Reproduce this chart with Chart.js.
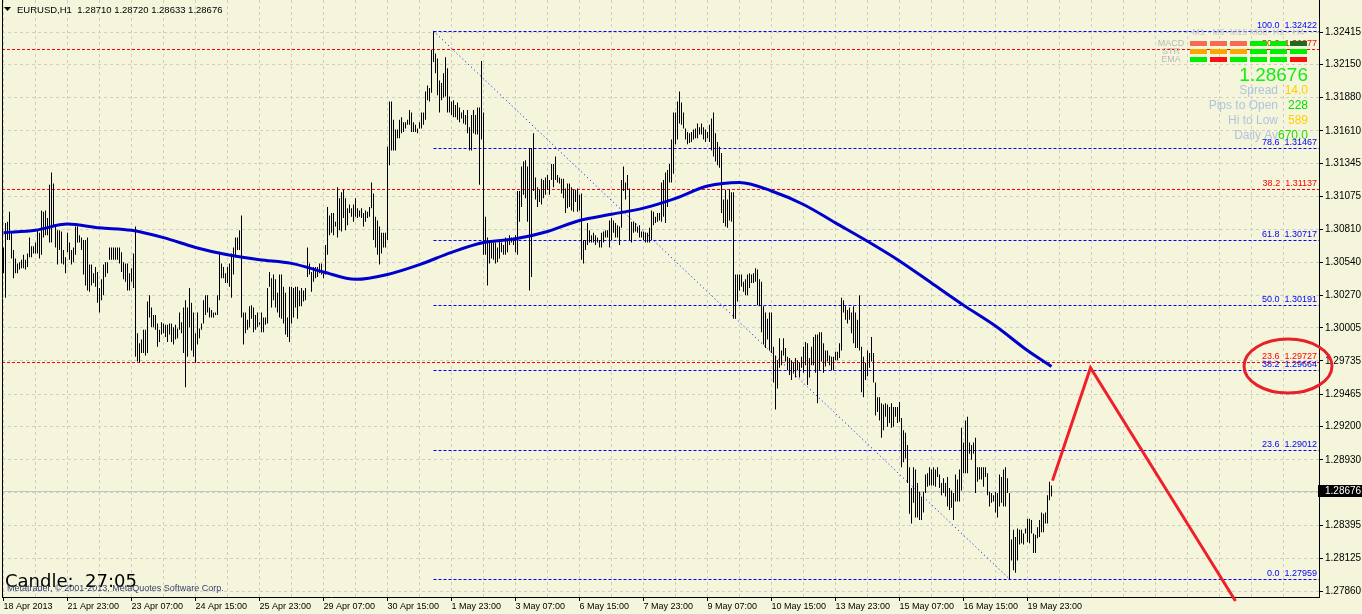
<!DOCTYPE html>
<html>
<head>
<meta charset="utf-8">
<title>EURUSD,H1</title>
<script src="https://cdn.jsdelivr.net/npm/chart.js@4.4.1/dist/chart.umd.min.js"></script>
<style>
  html, body { margin: 0; padding: 0; background: #f5f5dc; overflow: hidden; }
  canvas { display: block; }
</style>
</head>
<body>
<canvas id="eurusd-chart" width="1362" height="614"></canvas>
<script>
// EURUSD H1, 18 Apr - 20 May 2013, one bar per hour (bar view shows high/low only)
const highs = [
  1.3066,1.3086,1.3087,1.3095,1.3079,1.3064,1.3057,1.3053,1.3054,1.3056,
  1.3060,1.3056,1.3061,1.3074,1.3067,1.3067,1.3070,1.3080,1.3078,1.3096,
  1.3095,1.3096,1.3090,1.3117,1.3127,1.3118,1.3083,1.3080,1.3080,1.3079,
  1.3064,1.3058,1.3078,1.3070,1.3064,1.3066,1.3083,1.3083,1.3076,1.3074,
  1.3072,1.3072,1.3074,1.3052,1.3052,1.3045,1.3050,1.3046,1.3033,1.3040,
  1.3052,1.3054,1.3054,1.3066,1.3066,1.3066,1.3066,1.3066,1.3066,1.3062,
  1.3054,1.3053,1.3053,1.3045,1.3049,1.3061,1.3083,1.2996,1.2988,1.2991,
  1.2999,1.2999,1.3022,1.3027,1.3017,1.3011,1.3011,1.3004,1.2999,1.3005,
  1.3004,1.3003,1.3003,1.3004,1.3004,1.3001,1.3003,1.3000,1.3013,1.3005,
  1.3017,1.3023,1.3017,1.3033,1.3021,1.3013,1.2996,1.3013,1.3000,1.3004,
  1.3023,1.3027,1.3027,1.3017,1.3015,1.3013,1.3013,1.3027,1.3061,1.3053,
  1.3050,1.3045,1.3050,1.3053,1.3061,1.3066,1.3074,1.3074,1.3080,1.3092,
  1.3013,1.3013,1.3007,1.3018,1.3019,1.3017,1.3011,1.3013,1.3005,1.3013,
  1.3009,1.3009,1.3033,1.3046,1.3041,1.3044,1.3040,1.3029,1.3044,1.3044,
  1.3034,1.3029,1.3009,1.3034,1.3034,1.3033,1.3034,1.3034,1.3031,1.3033,
  1.3031,1.3033,1.3066,1.3053,1.3046,1.3050,1.3050,1.3050,1.3053,1.3053,
  1.3045,1.3068,1.3099,1.3092,1.3094,1.3094,1.3087,1.3115,1.3106,1.3111,
  1.3113,1.3106,1.3098,1.3101,1.3098,1.3101,1.3106,1.3098,1.3096,1.3098,
  1.3094,1.3096,1.3095,1.3099,1.3119,1.3110,1.3091,1.3088,1.3083,1.3078,
  1.3078,1.3078,1.3148,1.3185,1.3185,1.3170,1.3162,1.3162,1.3170,1.3172,
  1.3168,1.3168,1.3170,1.3178,1.3176,1.3168,1.3166,1.3163,1.3168,1.3176,
  1.3176,1.3193,1.3198,1.3196,1.3227,1.32422,1.3224,1.3220,1.3202,1.3200,
  1.3208,1.3221,1.3212,1.3189,1.3185,1.3186,1.3182,1.3184,1.3180,1.3176,
  1.3178,1.3174,1.3178,1.3164,1.3174,1.3178,1.3174,1.3180,1.3180,1.3218,
  1.3176,1.3091,1.3074,1.3072,1.3070,1.3070,1.3070,1.3066,1.3072,1.3070,
  1.3068,1.3074,1.3072,1.3076,1.3074,1.3074,1.3076,1.3112,1.3112,1.3132,
  1.3136,1.3137,1.3132,1.3147,1.3147,1.3159,1.3123,1.3115,1.3113,1.3122,
  1.3121,1.3123,1.3125,1.3121,1.3134,1.3134,1.3140,1.3125,1.3123,1.3122,
  1.3122,1.3114,1.3118,1.3118,1.3115,1.3113,1.3113,1.3114,1.3109,1.3110,
  1.3072,1.3072,1.3086,1.3080,1.3076,1.3078,1.3076,1.3074,1.3072,1.3078,
  1.3079,1.3080,1.3080,1.3088,1.3090,1.3088,1.3086,1.3084,1.3083,1.3121,
  1.3132,1.3119,1.3125,1.3114,1.3087,1.3087,1.3086,1.3083,1.3084,1.3079,
  1.3079,1.3078,1.3078,1.3082,1.3096,1.3095,1.3091,1.3094,1.3094,1.3119,
  1.3121,1.3127,1.3129,1.3134,1.3154,1.3176,1.3176,1.3185,1.3193,1.3184,
  1.3176,1.3163,1.3160,1.3159,1.3160,1.3162,1.3163,1.3167,1.3164,1.3167,
  1.3164,1.3162,1.3160,1.3166,1.3171,1.3176,1.3159,1.3152,1.3148,1.3143,
  1.3105,1.3113,1.3105,1.3113,1.3111,1.3111,1.3044,1.3044,1.3044,1.3044,
  1.3038,1.3040,1.3044,1.3045,1.3044,1.3045,1.3049,1.3048,1.3040,1.3038,
  1.3018,1.3013,1.3008,1.3013,1.3013,1.2985,1.2978,1.2974,1.2992,1.2982,
  1.2992,1.2984,1.2977,1.2976,1.2974,1.2972,1.2976,1.2974,1.2972,1.2977,
  1.2985,1.2989,1.2988,1.2976,1.2985,1.2993,1.2995,1.2995,1.2997,1.2997,
  1.2988,1.2982,1.2982,1.2978,1.2977,1.2977,1.2981,1.2981,1.2988,1.3025,
  1.3023,1.3018,1.3015,1.3017,1.3013,1.3018,1.3013,1.3007,1.3027,1.2985,
  1.2977,1.2972,1.2982,1.2980,1.2993,1.2980,1.2956,1.2944,1.2944,1.2939,
  1.2938,1.2939,1.2938,1.2936,1.2939,1.2936,1.2936,1.2936,1.2940,1.2927,
  1.2917,1.2915,1.2905,1.2887,1.2870,1.2887,1.2885,1.2874,1.2867,1.2863,
  1.2867,1.2881,1.2882,1.2887,1.2885,1.2887,1.2885,1.2887,1.2881,1.2874,
  1.2878,1.2874,1.2879,1.2870,1.2868,1.2866,1.2881,1.2877,1.2885,1.2919,
  1.2907,1.2925,1.2928,1.2907,1.2905,1.2907,1.2911,1.2887,1.2887,1.2887,
  1.2887,1.2887,1.2882,1.2867,1.2866,1.2864,1.2867,1.2866,1.2881,1.2879,
  1.2885,1.2887,1.2878,1.2866,1.2828,1.2836,1.2830,1.2837,1.2836,1.2836,
  1.2833,1.2837,1.2845,1.2845,1.2844,1.2833,1.2832,1.2838,1.2844,1.2850,
  1.2849,1.2850,1.2864,1.2875,1.2872
];
const lows = [
  1.3045,1.3025,1.3072,1.3072,1.3057,1.3041,1.3045,1.3045,1.3048,1.3049,
  1.3049,1.3048,1.3050,1.3058,1.3058,1.3061,1.3061,1.3061,1.3057,1.3060,
  1.3074,1.3076,1.3076,1.3070,1.3070,1.3083,1.3066,1.3052,1.3064,1.3053,
  1.3052,1.3045,1.3062,1.3056,1.3052,1.3054,1.3060,1.3070,1.3070,1.3064,
  1.3044,1.3035,1.3031,1.3030,1.3035,1.3037,1.3034,1.3021,1.3013,1.3023,
  1.3027,1.3042,1.3045,1.3056,1.3056,1.3056,1.3056,1.3056,1.3053,1.3046,
  1.3040,1.3038,1.3031,1.3031,1.3038,1.3033,1.2977,1.2973,1.2972,1.2980,
  1.2980,1.2978,1.2980,1.3009,1.3001,1.3001,1.2999,1.2985,1.2989,1.2995,
  1.2996,1.2993,1.2989,1.2995,1.2989,1.2987,1.2991,1.2992,1.2999,1.2996,
  1.2980,1.2952,1.2977,1.3001,1.2982,1.2977,1.2972,1.2987,1.2992,1.2999,
  1.3004,1.3011,1.3013,1.3009,1.3009,1.3009,1.3011,1.3011,1.3023,1.3041,
  1.3041,1.3037,1.3037,1.3034,1.3025,1.3044,1.3058,1.3064,1.3064,1.3009,
  1.2987,1.2996,1.2999,1.3001,1.3008,1.2997,1.2999,1.3001,1.3003,1.2997,
  1.2997,1.3003,1.3004,1.3034,1.3017,1.3023,1.3017,1.3013,1.3009,1.3008,
  1.3004,1.2995,1.2993,1.2989,1.3004,1.3009,1.3017,1.3008,1.3018,1.3018,
  1.3022,1.3023,1.3042,1.3044,1.3030,1.3038,1.3041,1.3042,1.3045,1.3044,
  1.3041,1.3044,1.3060,1.3076,1.3078,1.3076,1.3083,1.3074,1.3080,1.3079,
  1.3090,1.3080,1.3084,1.3094,1.3091,1.3087,1.3091,1.3090,1.3091,1.3090,
  1.3083,1.3087,1.3090,1.3091,1.3098,1.3072,1.3066,1.3060,1.3052,1.3061,
  1.3066,1.3066,1.3072,1.3133,1.3145,1.3145,1.3145,1.3155,1.3155,1.3159,
  1.3160,1.3163,1.3166,1.3166,1.3160,1.3160,1.3160,1.3159,1.3163,1.3163,
  1.3166,1.3170,1.3186,1.3185,1.3192,1.3217,1.3208,1.3190,1.3176,1.3186,
  1.3188,1.3189,1.3176,1.3176,1.3174,1.3172,1.3172,1.3170,1.3168,1.3171,
  1.3167,1.3166,1.3159,1.3145,1.3145,1.3159,1.3158,1.3158,1.3117,1.3154,
  1.3060,1.3060,1.3035,1.3053,1.3057,1.3056,1.3053,1.3054,1.3057,1.3062,
  1.3060,1.3060,1.3062,1.3068,1.3070,1.3068,1.3062,1.3060,1.3087,1.3099,
  1.3109,1.3106,1.3087,1.3031,1.3042,1.3112,1.3105,1.3099,1.3103,1.3101,
  1.3106,1.3109,1.3113,1.3109,1.3121,1.3115,1.3121,1.3119,1.3118,1.3110,
  1.3106,1.3094,1.3098,1.3099,1.3096,1.3095,1.3103,1.3095,1.3096,1.3056,
  1.3053,1.3064,1.3068,1.3070,1.3070,1.3070,1.3068,1.3070,1.3066,1.3066,
  1.3070,1.3074,1.3074,1.3066,1.3072,1.3078,1.3074,1.3074,1.3068,1.3082,
  1.3112,1.3105,1.3113,1.3072,1.3070,1.3078,1.3079,1.3078,1.3074,1.3074,
  1.3072,1.3070,1.3070,1.3070,1.3072,1.3084,1.3086,1.3087,1.3088,1.3087,
  1.3091,1.3086,1.3099,1.3119,1.3119,1.3126,1.3150,1.3154,1.3167,1.3166,
  1.3163,1.3154,1.3150,1.3151,1.3152,1.3154,1.3155,1.3155,1.3158,1.3158,
  1.3154,1.3152,1.3155,1.3152,1.3145,1.3140,1.3136,1.3133,1.3131,1.3094,
  1.3086,1.3083,1.3082,1.3088,1.3087,1.3008,1.3008,1.3022,1.3031,1.3034,
  1.3030,1.3027,1.3027,1.3033,1.3037,1.3037,1.3038,1.3019,1.3018,1.2997,
  1.2987,1.2984,1.2991,1.2982,1.2980,1.2956,1.2934,1.2951,1.2968,1.2970,
  1.2978,1.2973,1.2966,1.2962,1.2958,1.2964,1.2960,1.2966,1.2960,1.2968,
  1.2964,1.2970,1.2954,1.2960,1.2970,1.2970,1.2964,1.2939,1.2966,1.2973,
  1.2964,1.2969,1.2973,1.2970,1.2966,1.2966,1.2974,1.2974,1.2976,1.2982,
  1.3013,1.3007,1.3004,1.3007,1.2996,1.2988,1.2984,1.2984,1.2982,1.2948,
  1.2944,1.2958,1.2961,1.2968,1.2973,1.2956,1.2929,1.2932,1.2925,1.2911,
  1.2917,1.2928,1.2920,1.2923,1.2919,1.2920,1.2928,1.2923,1.2924,1.2887,
  1.2891,1.2894,1.2874,1.2849,1.2841,1.2858,1.2846,1.2846,1.2844,1.2844,
  1.2850,1.2866,1.2871,1.2872,1.2872,1.2872,1.2871,1.2879,1.2870,1.2864,
  1.2866,1.2863,1.2855,1.2852,1.2854,1.2844,1.2859,1.2859,1.2859,1.2868,
  1.2882,1.2882,1.2882,1.2898,1.2893,1.2898,1.2866,1.2875,1.2877,1.2877,
  1.2871,1.2879,1.2864,1.2855,1.2858,1.2859,1.2850,1.2846,1.2855,1.2858,
  1.2855,1.2855,1.2866,1.27959,1.2811,1.2803,1.2801,1.2811,1.2824,1.2825,
  1.2824,1.2833,1.2826,1.2825,1.2833,1.2817,1.2817,1.2829,1.2830,1.2834,
  1.2834,1.2841,1.2841,1.2860,1.2863
];

// time axis: one label every 32 bars, a grid line every 16
const dateLabels = ['18 Apr 2013', '21 Apr 23:00', '23 Apr 07:00', '24 Apr 15:00', '25 Apr 23:00',
  '29 Apr 07:00', '30 Apr 15:00', '1 May 23:00', '3 May 07:00', '6 May 15:00', '7 May 23:00',
  '9 May 07:00', '10 May 15:00', '13 May 23:00', '15 May 07:00', '16 May 15:00', '19 May 23:00'];
const priceTicks = [1.32415, 1.32150, 1.31880, 1.31610, 1.31345, 1.31075, 1.30810, 1.30540, 1.30270,
  1.30005, 1.29735, 1.29465, 1.29200, 1.28930, 1.28665, 1.28395, 1.28125, 1.27860];

// moving average (blue), read every 16 bars
const maIdx = [0, 16, 32, 48, 64, 80, 96, 112, 128, 144, 160, 176, 192, 208, 224, 240, 256,
  272, 288, 304, 320, 336, 352, 368, 384, 400, 416, 432, 448, 464, 480, 496, 512, 524];
const maVal = [1.3078, 1.3080, 1.3085, 1.3082, 1.3080, 1.3074, 1.3066, 1.3060, 1.3056, 1.3053,
  1.3046, 1.3040, 1.3044, 1.3052, 1.3062, 1.3070, 1.3073, 1.3079, 1.3088, 1.3093, 1.3098,
  1.3106, 1.3116, 1.3119, 1.3112, 1.3101, 1.3086, 1.3071, 1.3055, 1.3037, 1.3019, 1.3002,
  1.2982, 1.2969];

// fibo from the 1 May high (bar 215) to the 16 May low (bar 503)
const fibLevels = [100, 78.6, 61.8, 50, 38.2, 23.6, 0];
const fibPrices = [1.32422, 1.31467, 1.30717, 1.30191, 1.29664, 1.29012, 1.27959];
const fibStart = 215;
const fibEnd = 503;

// older fibo (red), levels that fall on screen
const redFibLevels = [50, 38.2, 23.6];
const redFibPrices = [1.32277, 1.31137, 1.29727];

// hand drawn projection and the circled zone
const projIdx = [524.5, 543.5, 616];
const projVal = [1.2876, 1.2968, 1.2778];
const circleIdx = 642.25;
const circlePrice = 1.29694;

const symbol = 'EURUSD,H1';
const lastBar = { open: 1.28710, high: 1.28720, low: 1.28633, close: 1.28676 };

// signal panel
const panelCols = ['M1', 'M5', 'M15', 'M30', 'H1', 'H4'];
const panelRows = ['MACD', 'STR', 'EMA'];
const panelColors = [
  ['#fa6a52', '#fa6a52', '#fa6a52', '#00ee00', '#00ee00', '#1d6b1d'],
  ['#ffa500', '#ffa500', '#ffa500', '#00ee00', '#00ee00', '#00ee00'],
  ['#00ee00', '#ff1010', '#00ee00', '#00ee00', '#00ee00', '#ff1010']
];
const infoLabels = ['Spread', 'Pips to Open', 'Hi to Low', 'Daily Av'];
const infoValues = ['14.0', '228', '589', '670.0'];
const infoColors = ['#ffd000', '#00e000', '#ffd000', '#22dd00'];

const BG = '#f5f5dc';
const GRID = '#cfcfc6';
const FONT = '"Liberation Sans", Arial, sans-serif';

Chart.defaults.font.family = FONT;

const bars = highs.map((h, i) => ({ x: i, y: [lows[i], h] }));
const maLine = maIdx.map((x, k) => ({ x, y: maVal[k] }));
const fibDiagonal = [{ x: fibStart, y: fibPrices[0] }, { x: fibEnd, y: fibPrices[fibPrices.length - 1] }];
const projection = projIdx.map((x, k) => ({ x, y: projVal[k] }));

const crisp = v => Math.round(v) + 0.5;
function hline(ctx, x1, x2, y) {
  ctx.beginPath(); ctx.moveTo(x1, y); ctx.lineTo(x2, y); ctx.stroke();
}

const background = {
  id: 'background',
  beforeDraw(chart) {
    const { ctx, width, height } = chart;
    ctx.save();
    ctx.fillStyle = BG;
    ctx.fillRect(0, 0, width, height);
    ctx.restore();
  }
};

// bid line + fibo levels, under the bars
const levels = {
  id: 'levels',
  beforeDatasetsDraw(chart) {
    const { ctx, chartArea: a, scales: { x, y } } = chart;
    ctx.save();
    ctx.lineWidth = 1;
    ctx.strokeStyle = '#c4c4c4';
    hline(ctx, a.left, a.right, crisp(y.getPixelForValue(lastBar.close)));

    ctx.setLineDash([3, 2]);
    ctx.font = '9px ' + FONT;
    ctx.textAlign = 'right';
    ctx.textBaseline = 'middle';
    const drawSet = (lv, prices, color, x1) => {
      lv.forEach((l, k) => {
        const py = crisp(y.getPixelForValue(prices[k]));
        ctx.strokeStyle = color;
        hline(ctx, x1, a.right, py);
        ctx.fillStyle = color;
        ctx.fillText(l.toFixed(1) + '  ' + prices[k].toFixed(5), a.right - 2, py - 6);
      });
    };
    drawSet(redFibLevels, redFibPrices, '#ff0000', a.left);
    drawSet(fibLevels, fibPrices, '#0000ff', x.getPixelForValue(fibStart));
    ctx.restore();
  }
};

const overlay = {
  id: 'overlay',
  afterDraw(chart) {
    const { ctx, chartArea: a, scales: { x, y } } = chart;
    ctx.save();

    // left frame
    ctx.strokeStyle = '#000';
    ctx.lineWidth = 1;
    ctx.beginPath(); ctx.moveTo(a.left + 0.5, 0); ctx.lineTo(a.left + 0.5, a.bottom); ctx.stroke();

    // title
    ctx.fillStyle = '#000';
    ctx.beginPath(); ctx.moveTo(4, 7); ctx.lineTo(11, 7); ctx.lineTo(7.5, 11); ctx.closePath(); ctx.fill();
    ctx.font = '9.5px ' + FONT;
    ctx.textAlign = 'left';
    ctx.textBaseline = 'middle';
    const ohlc = [lastBar.open, lastBar.high, lastBar.low, lastBar.close].map(v => v.toFixed(5)).join(' ');
    ctx.fillText(symbol + '  ' + ohlc, 17, 10);

    // signal panel
    const px0 = a.right - 129;
    ctx.font = '9px ' + FONT;
    ctx.textAlign = 'center';
    ctx.fillStyle = '#c8c8c8';
    panelCols.forEach((c, k) => ctx.fillText(c, px0 + 20 * k + 8.5, 33));
    panelRows.forEach((r, j) => {
      ctx.fillStyle = '#b8b8b8';
      ctx.fillText(r, a.right - 148, 44 + 8 * j);
      panelColors[j].forEach((col, k) => {
        ctx.fillStyle = col;
        ctx.fillRect(px0 + 20 * k, 41 + 8 * j, 17, 5);
      });
    });

    ctx.textAlign = 'right';
    ctx.font = '19px ' + FONT;
    ctx.fillStyle = '#11ee11';
    ctx.fillText(lastBar.close.toFixed(5), a.right - 11, 76);
    ctx.font = '12px ' + FONT;
    infoLabels.forEach((l, k) => {
      const ty = 91 + 14.8 * k;
      ctx.fillStyle = '#b0c4de';
      ctx.fillText(l, a.right - 41, ty);
      ctx.fillStyle = infoColors[k];
      ctx.fillText(infoValues[k], a.right - 11, ty);
    });

    // candle timer and copyright
    ctx.textAlign = 'left';
    ctx.fillStyle = '#000';
    ctx.font = '18px "DejaVu Sans", sans-serif';
    ctx.fillText('Candle:  27:05', 5, 582);
    ctx.fillStyle = '#34406e';
    ctx.font = '9px ' + FONT;
    ctx.fillText('Metatrader, \u00a9 2001-2013, MetaQuotes Software Corp.', 7, 589);

    // bid price box on the axis
    const by = Math.round(y.getPixelForValue(lastBar.close));
    ctx.fillStyle = '#000';
    ctx.fillRect(a.right - 1, by - 6, chart.width - a.right + 1, 12);
    ctx.fillStyle = '#fff';
    ctx.font = '10px ' + FONT;
    ctx.fillText(lastBar.close.toFixed(5), a.right + 6, by + 0.5);

    // circled zone
    ctx.strokeStyle = '#e8202a';
    ctx.lineWidth = 3;
    ctx.beginPath();
    ctx.ellipse(x.getPixelForValue(circleIdx), y.getPixelForValue(circlePrice), 44, 27, 0, 0, Math.PI * 2);
    ctx.stroke();

    ctx.restore();
  }
};

new Chart(document.getElementById('eurusd-chart'), {
  type: 'bar',
  data: {
    datasets: [
      { type: 'line', label: 'Projection', data: projection, borderColor: '#f0202a', borderWidth: 3,
        pointRadius: 0, clip: false, order: 0 },
      { type: 'line', label: 'MA', data: maLine, borderColor: '#0000cd', borderWidth: 3,
        pointRadius: 0, cubicInterpolationMode: 'monotone', order: 1 },
      { type: 'line', label: 'Fibo', data: fibDiagonal, borderColor: '#0000ff', borderWidth: 1,
        borderDash: [1, 3], pointRadius: 0, order: 2 },
      { type: 'bar', label: 'EURUSD', data: bars, backgroundColor: '#000', borderWidth: 0,
        barThickness: 1, inflateAmount: 0, order: 3 }
    ]
  },
  options: {
    responsive: false,
    devicePixelRatio: 1,
    animation: false,
    events: [],
    layout: { padding: { left: 2, top: 0, right: 0, bottom: 0 } },
    plugins: { legend: { display: false }, tooltip: { enabled: false } },
    scales: {
      x: {
        type: 'linear',
        position: 'bottom',
        min: -0.75,
        max: 657.75,
        bounds: 'data',
        offset: false,
        afterBuildTicks: s => {
          const t = [];
          for (let v = 0; v <= 640; v += 16) t.push({ value: v });
          s.ticks = t;
        },
        afterFit: s => { s.height = 17; s.paddingLeft = 0; s.paddingRight = 0; },
        grid: {
          offset: false,
          color: GRID,
          tickLength: 4,
          tickBorderDash: [],
          tickColor: c => (c.tick && c.tick.value % 32 === 0 && dateLabels[c.tick.value / 32]) ? '#000' : 'rgba(0,0,0,0)'
        },
        border: { display: true, color: '#000', width: 1, dash: [3, 3] },
        ticks: {
          autoSkip: false,
          maxRotation: 0,
          minRotation: 0,
          align: 'start',
          padding: 0,
          color: '#000',
          font: { size: 9 },
          callback: v => (v % 32 === 0 && dateLabels[v / 32]) || ''
        }
      },
      y: {
        type: 'linear',
        position: 'right',
        min: 1.27812,
        max: 1.32676,
        bounds: 'data',
        afterBuildTicks: s => { s.ticks = priceTicks.map(v => ({ value: v })); },
        afterFit: s => { s.width = 43; s.paddingTop = 0; s.paddingBottom = 0; },
        grid: { color: GRID, tickLength: 4, tickColor: '#000', tickBorderDash: [] },
        border: { display: true, color: '#000', width: 1, dash: [3, 3] },
        ticks: { padding: 2, color: '#000', font: { size: 10 }, callback: v => v.toFixed(5) }
      }
    }
  },
  plugins: [background, levels, overlay]
});
</script>
</body>
</html>
